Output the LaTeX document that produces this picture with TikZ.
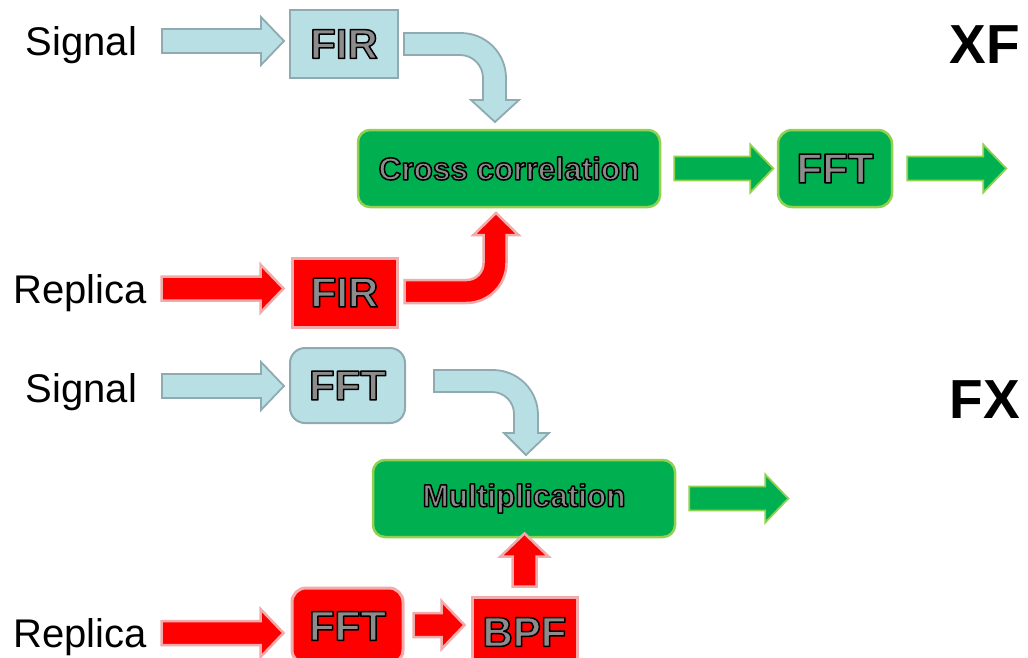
\documentclass[tikz,border=0pt]{standalone}
\usepackage{fontspec}
\setmainfont{Liberation Sans}
\usepackage{xcolor}
\definecolor{aqua}{HTML}{B8DFE4}
\definecolor{aquaedge}{HTML}{8FAAB0}
\definecolor{leaf}{HTML}{00B050}
\definecolor{leafedge}{HTML}{92D050}
\definecolor{hot}{HTML}{FF0000}
\definecolor{hotedge}{HTML}{F2AAAA}
\definecolor{labelgray}{HTML}{8C8C8C}
\usetikzlibrary{calc}

% outlined label text (fill gray, stroke black)
\newcommand{\outlined}[1]{{\color{labelgray}%
  \special{pdf:literal direct 2 Tr 1.5 w 1 j 0 G}#1\special{pdf:literal direct 0 Tr}}}

% block arrow: [angle]{style}{tail}{length}
\newcommand{\blockarrow}[4][0]{%
  \filldraw[#2, shift={#3}, rotate=#1] (0,-12) -- ({#4-23},-12) -- ({#4-23},-24)
    -- (#4,0) -- ({#4-23},24) -- ({#4-23},12) -- (0,12) -- cycle;}

\begin{document}
\begin{tikzpicture}[x=1pt, y=1pt,
    box/.style={minimum width=#1, inner sep=0pt},
    bluebox/.style={draw=aquaedge, line width=2pt, fill=aqua},
    greenbox/.style={draw=leafedge, line width=2.5pt, fill=leaf, rounded corners=12pt},
    redbox/.style={draw=hotedge, line width=3pt, fill=hot},
    bluearrow/.style={draw=aquaedge, line width=1.8pt, fill=aqua, line join=miter},
    greenarrow/.style={draw=leafedge, line width=1.8pt, fill=leaf, line join=miter},
    redarrow/.style={draw=hotedge, line width=2.5pt, fill=hot, line join=miter},
    boxtext/.style={font=\bfseries\fontsize{42}{50}\selectfont},
    smalltext/.style={font=\bfseries\fontsize{31.5}{37}\selectfont},
    side/.style={anchor=base, font=\fontsize{40}{48}\selectfont},
    tag/.style={anchor=base, font=\bfseries\fontsize{55}{66}\selectfont}
]
  \useasboundingbox (0,0) rectangle (1028,-657);

  % XF
  \node[side] (sigA) at (81.5,-55) {Signal};
  \node[side] (repA) at (80,-303) {Replica};
  \node[tag] (xf) at (985,-63) {XF};

  \node[bluebox, box=108pt, minimum height=68pt, boxtext] (firA) at (344,-44) {\outlined{FIR}};
  \node[greenbox, box=302pt, minimum height=77pt, smalltext] (xcorr) at (509,-168.5) {\outlined{Cross correlation}};
  \node[greenbox, rounded corners=14pt, box=114pt, minimum height=77pt, boxtext] (fftA) at (835,-168.5) {\outlined{FFT}};
  \node[redbox, box=105pt, minimum height=69pt, boxtext] (firB) at (344.5,-292.5) {\outlined{FIR}};

  \blockarrow{bluearrow}{($(firA.west)+(-127,3)$)}{122}
  \blockarrow{greenarrow}{($(xcorr.east)+(13,0)$)}{99}
  \blockarrow{greenarrow}{($(fftA.east)+(14,0)$)}{99}
  \blockarrow{redarrow}{($(firB.west)+(-129,4)$)}{122}

  % bent arrows into the correlator
  \filldraw[bluearrow, shift={(firA.east)}] (5,11) -- (62,11)
    arc[start angle=90, end angle=0, radius=45] -- (107,-56) -- (120,-56)
    -- (96,-78) -- (72,-56) -- (84,-56) -- (84,-34)
    arc[start angle=0, end angle=90, radius=23] -- (5,-11) -- cycle;
  \filldraw[redarrow, shift={(firB.east)}] (6,-10.5) -- (68,-10.5)
    arc[start angle=-90, end angle=0, radius=40] -- (108,57.5) -- (120,57.5)
    -- (97.5,79.5) -- (75,57.5) -- (85,57.5) -- (85,29.5)
    arc[start angle=0, end angle=-90, radius=17] -- (6,12.5) -- cycle;

  % FX
  \node[side] (sigB) at (81.5,-402) {Signal};
  \node[side] (repB) at (80,-647) {Replica};
  \node[tag] (fx) at (985,-418) {FX};

  \node[bluebox, rounded corners=15pt, box=115pt, minimum height=75pt, boxtext] (fftB) at (347.5,-385.5) {\outlined{FFT}};
  \node[greenbox, box=302pt, minimum height=77pt, smalltext] (mult) at (524,-498.5) {\outlined{Multiplication}};
  \node[redbox, rounded corners=14pt, box=111pt, minimum height=76pt, boxtext] (fftC) at (347.5,-626) {\outlined{FFT}};
  \node[redbox, box=105pt, minimum height=70pt, boxtext] (bpf) at (524.5,-632) {\outlined{BPF}};

  \blockarrow{bluearrow}{($(fftB.west)+(-127,-0.5)$)}{122}
  \blockarrow{greenarrow}{($(mult.east)+(13,0)$)}{99}
  \blockarrow{redarrow}{($(fftC.west)+(-129,-7)$)}{122}
  \blockarrow{redarrow}{($(fftC.east)+(9,1)$)}{51}
  \blockarrow[90]{redarrow}{($(bpf.north)+(0,9)$)}{53}

  \filldraw[bluearrow, shift={(fftB.east)}] (28,15.5) -- (87,15.5)
    arc[start angle=90, end angle=0, radius=45] -- (132,-47.5) -- (143,-47.5)
    -- (120,-69.5) -- (98,-47.5) -- (108,-47.5) -- (108,-28.5)
    arc[start angle=0, end angle=90, radius=22] -- (28,-6.5) -- cycle;
\end{tikzpicture}
\end{document}
